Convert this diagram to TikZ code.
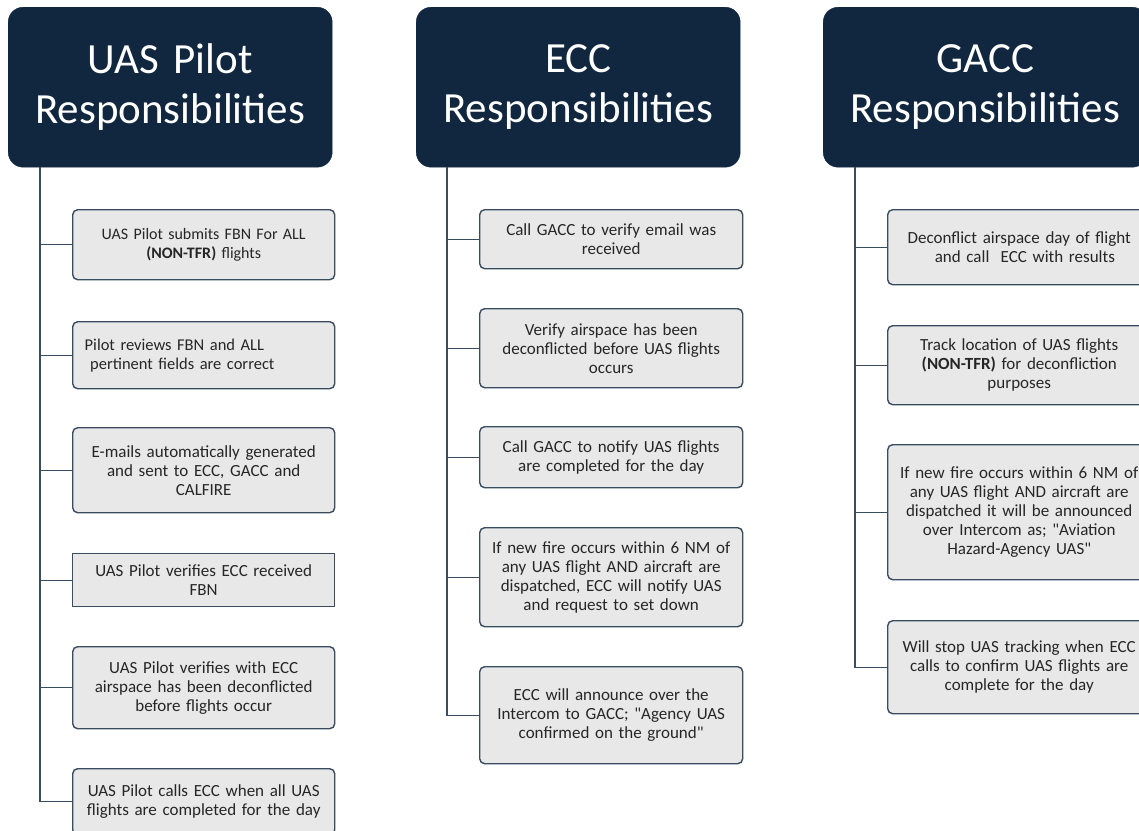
\documentclass[tikz,border=0pt]{standalone}
\usepackage{fontspec}
\setmainfont{Carlito}
\definecolor{navy}{HTML}{10273F}
\definecolor{edge}{HTML}{3A4C60}
\definecolor{boxfill}{HTML}{E8E8E8}
\definecolor{txt}{HTML}{262626}
\tikzset{
  hdr/.style={fill=navy, draw=navy, rounded corners=15pt, anchor=north west, inner sep=0pt,
    text=white, align=center, font=\fontsize{43}{50}\selectfont},
  item/.style={fill=boxfill, draw=edge, line width=1.4pt, rounded corners=5pt, anchor=north west,
    inner ysep=0pt, inner xsep=4pt, align=center, text=txt, font=\fontsize{17}{19}\selectfont},
  link/.style={draw=edge, line width=1.4pt}
}
\newcommand{\q}{\textquotedbl}
\begin{document}
\begin{tikzpicture}[x=1pt,y=-1pt]
\useasboundingbox (0,0) rectangle (1139,830);
\clip (0,0) rectangle (1139,830);
\fill[white] (0,0) rectangle (1139,830);
% headers
\node[hdr, minimum width=324pt, minimum height=160pt, text width=324pt] (h1) at (8,7) {UAS Pilot\\Responsibilities};
\node[hdr, minimum width=324pt, minimum height=160pt, text width=324pt] (h2) at (416,7) {ECC\\Responsibilities};
\node[hdr, minimum width=324pt, minimum height=160pt, text width=324pt] (h3) at (823,7) {GACC\\Responsibilities};
% trunk tops
\coordinate (t1) at (40,167);
\coordinate (t2) at (447,167);
\coordinate (t3) at (855,167);
% UAS pilot column
\node[item, text width=254pt, minimum height=70pt, font=\fontsize{16}{19}\selectfont] (b11) at (72,209) {UAS Pilot submits FBN For ALL\\\textbf{(NON-TFR)} flights};
\node[item, text width=238pt, inner xsep=12pt, align=left, minimum height=67pt, font=\fontsize{16.5}{19}\selectfont] (b12) at (72,321) {Pilot reviews FBN and ALL\\\ pertinent fields are correct};
\node[item, text width=254pt, minimum height=85pt] (b13) at (72,427) {E-mails automatically generated\\and sent to ECC, GACC and\\CALFIRE};
\node[item, rounded corners=0pt, text width=254pt, minimum height=53pt] (b14) at (72,553) {UAS Pilot verifies ECC received\\FBN};
\node[item, text width=254pt, minimum height=82pt] (b15) at (72,646) {UAS Pilot verifies with ECC\\airspace has been deconflicted\\before flights occur};
\node[item, text width=254pt, minimum height=66pt] (b16) at (72,768) {UAS Pilot calls ECC when all UAS\\flights are completed for the day};
% ECC column
\node[item, text width=255pt, minimum height=59pt] (b21) at (479,209) {Call GACC to verify email was\\received};
\node[item, text width=255pt, minimum height=79pt] (b22) at (479,308) {Verify airspace has been\\deconflicted before UAS flights\\occurs};
\node[item, text width=255pt, minimum height=61pt] (b23) at (479,426) {Call GACC to notify UAS flights\\are completed for the day};
\node[item, text width=255pt, minimum height=99pt] (b24) at (479,527) {If new fire occurs within 6 NM of\\any UAS flight AND aircraft are\\dispatched, ECC will notify UAS\\and request to set down};
\node[item, text width=255pt, minimum height=97pt] (b25) at (479,666) {ECC will announce over the\\Intercom to GACC; \q Agency UAS\\confirmed on the ground\q};
% GACC column
\node[item, text width=255pt, minimum height=75pt] (b31) at (887,209) {Deconflict airspace day of flight\\\ \ and call \ ECC with results};
\node[item, text width=255pt, minimum height=79pt] (b32) at (887,325) {Track location of UAS flights\\\textbf{(NON-TFR)} for deconfliction\\purposes};
\node[item, text width=255pt, minimum height=135pt] (b33) at (887,444) {If new fire occurs within 6 NM of\\any UAS flight AND aircraft are\\dispatched it will be announced\\over Intercom as; \q Aviation\\Hazard-Agency UAS\q};
\node[item, text width=255pt, minimum height=93pt] (b34) at (887,620) {Will stop UAS tracking when ECC\\calls to confirm UAS flights are\\complete for the day};
% connectors
\draw[link] (t1) |- (b16.west);
\foreach \b in {b11,b12,b13,b14,b15} \draw[link] (t1 |- \b.west) -- (\b.west);
\draw[link] (t2) |- (b25.west);
\foreach \b in {b21,b22,b23,b24} \draw[link] (t2 |- \b.west) -- (\b.west);
\draw[link] (t3) |- (b34.west);
\foreach \b in {b31,b32,b33} \draw[link] (t3 |- \b.west) -- (\b.west);
\end{tikzpicture}
\end{document}
